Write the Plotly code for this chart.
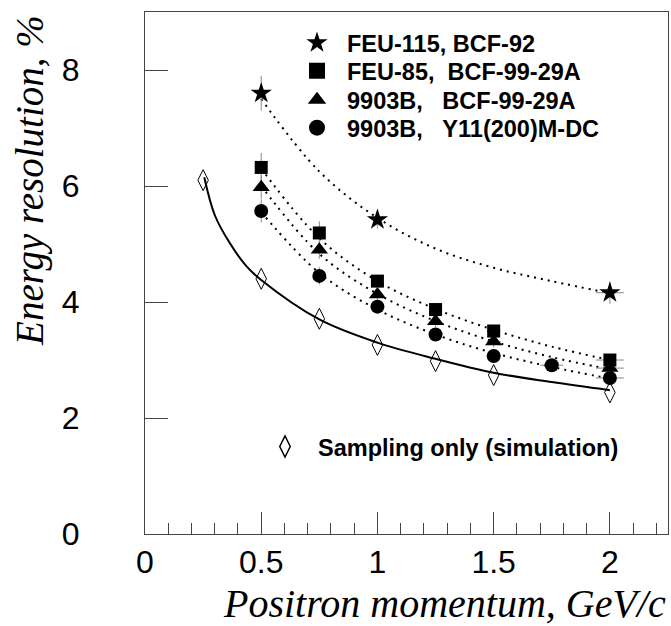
import plotly.graph_objects as go

# ---- data ----
p_star = [0.5, 1.0, 2.0]
res_star = [7.6, 5.42, 4.16]
ey_star = [0.3, 0.15, 0.19]
ex_star = [0.0, 0.0, 0.06]

p_sq = [0.5, 0.75, 1.0, 1.25, 1.5, 2.0]
res_sq = [6.32, 5.19, 4.36, 3.87, 3.5, 3.0]
ey_sq = [0.25, 0.2, 0.1, 0.1, 0.1, 0.1]
ex_sq = [0.0, 0.0, 0.0, 0.0, 0.03, 0.06]

p_tri = [0.5, 0.75, 1.0, 1.25, 1.5, 2.0]
res_tri = [5.98, 4.9, 4.13, 3.67, 3.32, 2.86]
ey_tri = [0.2, 0.15, 0.1, 0.1, 0.1, 0.1]
ex_tri = [0.0, 0.0, 0.0, 0.0, 0.03, 0.06]

p_circ = [0.5, 0.75, 1.0, 1.25, 1.5, 1.75, 2.0]
res_circ = [5.57, 4.45, 3.92, 3.44, 3.07, 2.91, 2.69]
ey_circ = [0.2, 0.15, 0.1, 0.1, 0.1, 0.08, 0.08]
ex_circ = [0.0, 0.0, 0.0, 0.0, 0.03, 0.05, 0.06]

p_sim = [0.25, 0.5, 0.75, 1.0, 1.25, 1.5, 2.0]
res_sim = [6.1, 4.4, 3.71, 3.26, 2.98, 2.74, 2.44]

# fitted curves
fit_p = [0.5, 0.75, 1.0, 1.25, 1.5, 1.75, 2.0]
fit_star = [7.5, 6.25, 5.45, 4.92, 4.59, 4.36, 4.15]
fit_sq = [6.3, 5.1, 4.36, 3.88, 3.52, 3.23, 3.0]
fit_tri = [6.0, 4.83, 4.14, 3.67, 3.32, 3.05, 2.84]
fit_circ = [5.55, 4.5, 3.87, 3.44, 3.12, 2.88, 2.68]
fit_sim_p = [0.255, 0.3, 0.364, 0.436, 0.5, 0.75, 1.0, 1.25, 1.5, 1.75, 2.0]
fit_sim = [6.15, 5.5, 5.02, 4.62, 4.38, 3.7, 3.3, 3.02, 2.78, 2.62, 2.48]

labels = ["FEU-115, BCF-92",
          "FEU-85,\u00a0\u00a0BCF-99-29A",
          "9903B,\u00a0\u00a0\u00a0BCF-99-29A",
          "9903B,\u00a0\u00a0\u00a0Y11(200)M-DC"]
sim_label = "Sampling only (simulation)"

x_ticks = [0, 0.5, 1, 1.5, 2]
x_ticktext = ["0", "0.5", "1", "1.5", "2"]
y_ticks = [0, 2, 4, 6, 8]

fig = go.Figure()

dot = "2px,5px"
for fx, fy in [(fit_p, fit_star), (fit_p, fit_sq), (fit_p, fit_tri), (fit_p, fit_circ)]:
    fig.add_trace(go.Scatter(x=fx, y=fy, mode="lines", line=dict(color="black", width=2, dash=dot, shape="spline"),
                             showlegend=False, hoverinfo="skip"))
fig.add_trace(go.Scatter(x=fit_sim_p, y=fit_sim, mode="lines", line=dict(color="black", width=2, shape="spline"),
                         showlegend=False, hoverinfo="skip"))

series = [
    (p_star, res_star, ey_star, ex_star, "star", 16),
    (p_sq, res_sq, ey_sq, ex_sq, "square", 13),
    (p_tri, res_tri, ey_tri, ex_tri, "triangle-up", 15),
    (p_circ, res_circ, ey_circ, ex_circ, "circle", 14),
]
for px, py, ey, ex, sym, sz in series:
    fig.add_trace(go.Scatter(
        x=px, y=py, mode="markers",
        marker=dict(symbol=sym, size=sz, color="black"),
        error_y=dict(type="data", array=ey, color="#888", thickness=1, width=0),
        error_x=dict(type="data", array=ex, color="#888", thickness=1, width=0),
        showlegend=False))
fig.add_trace(go.Scatter(x=p_sim, y=res_sim, mode="markers",
                         marker=dict(symbol="diamond-tall-open", size=15, color="black", line=dict(width=1)),
                         showlegend=False))

# legend entries (one legend per row)
leg_syms = [("star", 17), ("square", 16), ("triangle-up", 17), ("circle", 16)]
leg_names = ["legend", "legend2", "legend3", "legend4"]
for (sym, sz), lab, ln in zip(leg_syms, labels, leg_names):
    fig.add_trace(go.Scatter(x=[None], y=[None], mode="markers", name="<b>" + lab + "</b>",
                             marker=dict(symbol=sym, size=sz, color="black"), legend=ln, showlegend=True))
fig.add_trace(go.Scatter(x=[None], y=[None], mode="markers", name="<b>" + sim_label + "</b>",
                         marker=dict(symbol="diamond-tall-open", size=15, color="black", line=dict(width=1.5)),
                         legend="legend5", showlegend=True))

def ypaper(py):
    return (534.3 - py) / 522.3

leg_font = dict(family="Liberation Sans, Arial", size=23.5, color="black")
row_y = [43, 71, 100, 128]
legend_layout = {}
for ln, ry in zip(leg_names, row_y):
    legend_layout[ln] = dict(x=(287 - 145) / 523, xanchor="left", y=ypaper(ry), yanchor="middle",
                             font=leg_font, itemwidth=50, bgcolor="rgba(0,0,0,0)", borderwidth=0,
                             itemsizing="trace")
legend_layout["legend5"] = dict(x=(252 - 145) / 523, xanchor="left", y=ypaper(447), yanchor="middle",
                                font=leg_font, itemwidth=56, bgcolor="rgba(0,0,0,0)", borderwidth=0,
                                itemsizing="trace")

axis_col = "#444"
fig.update_layout(
    width=671, height=626,
    margin=dict(l=145, r=3, t=12, b=92),
    plot_bgcolor="white", paper_bgcolor="white",
    hovermode=False,
    xaxis=dict(range=[0, 2.25], tickvals=x_ticks, ticktext=x_ticktext, ticks="inside", ticklen=22,
               tickcolor=axis_col, showline=True, linecolor=axis_col, linewidth=1, mirror=True,
               showgrid=False, zeroline=False, ticklabelstandoff=0,
               tickfont=dict(family="Liberation Sans, Arial", size=32, color="black"),
               minor=dict(dtick=0.1, tick0=0, ticks="inside", ticklen=11, tickcolor=axis_col, showgrid=False)),
    yaxis=dict(range=[0, 9], tickvals=y_ticks, ticks="inside", ticklen=23,
               tickcolor=axis_col, showline=True, linecolor=axis_col, linewidth=1, mirror=True,
               showgrid=False, zeroline=False, ticklabelstandoff=58,
               tickfont=dict(family="Liberation Sans, Arial", size=32, color="black")),
    annotations=[
        dict(text="Energy resolution, %", xref="paper", yref="paper", x=(30 - 145) / 523, y=ypaper(181),
             xanchor="center", yanchor="middle", textangle=-90, showarrow=False,
             font=dict(family="Liberation Serif, Times New Roman", size=39, color="black", style="italic")),
        dict(text="Positron momentum, GeV/c", xref="paper", yref="paper", x=1.0, y=ypaper(604),
             xanchor="right", yanchor="middle", showarrow=False,
             font=dict(family="Liberation Serif, Times New Roman", size=40, color="black", style="italic")),
    ],
    **legend_layout,
)

fig.write_html("out.html", config={"displayModeBar": False, "staticPlot": True},
               post_script="document.body.style.margin='0';document.body.style.padding='0';")
